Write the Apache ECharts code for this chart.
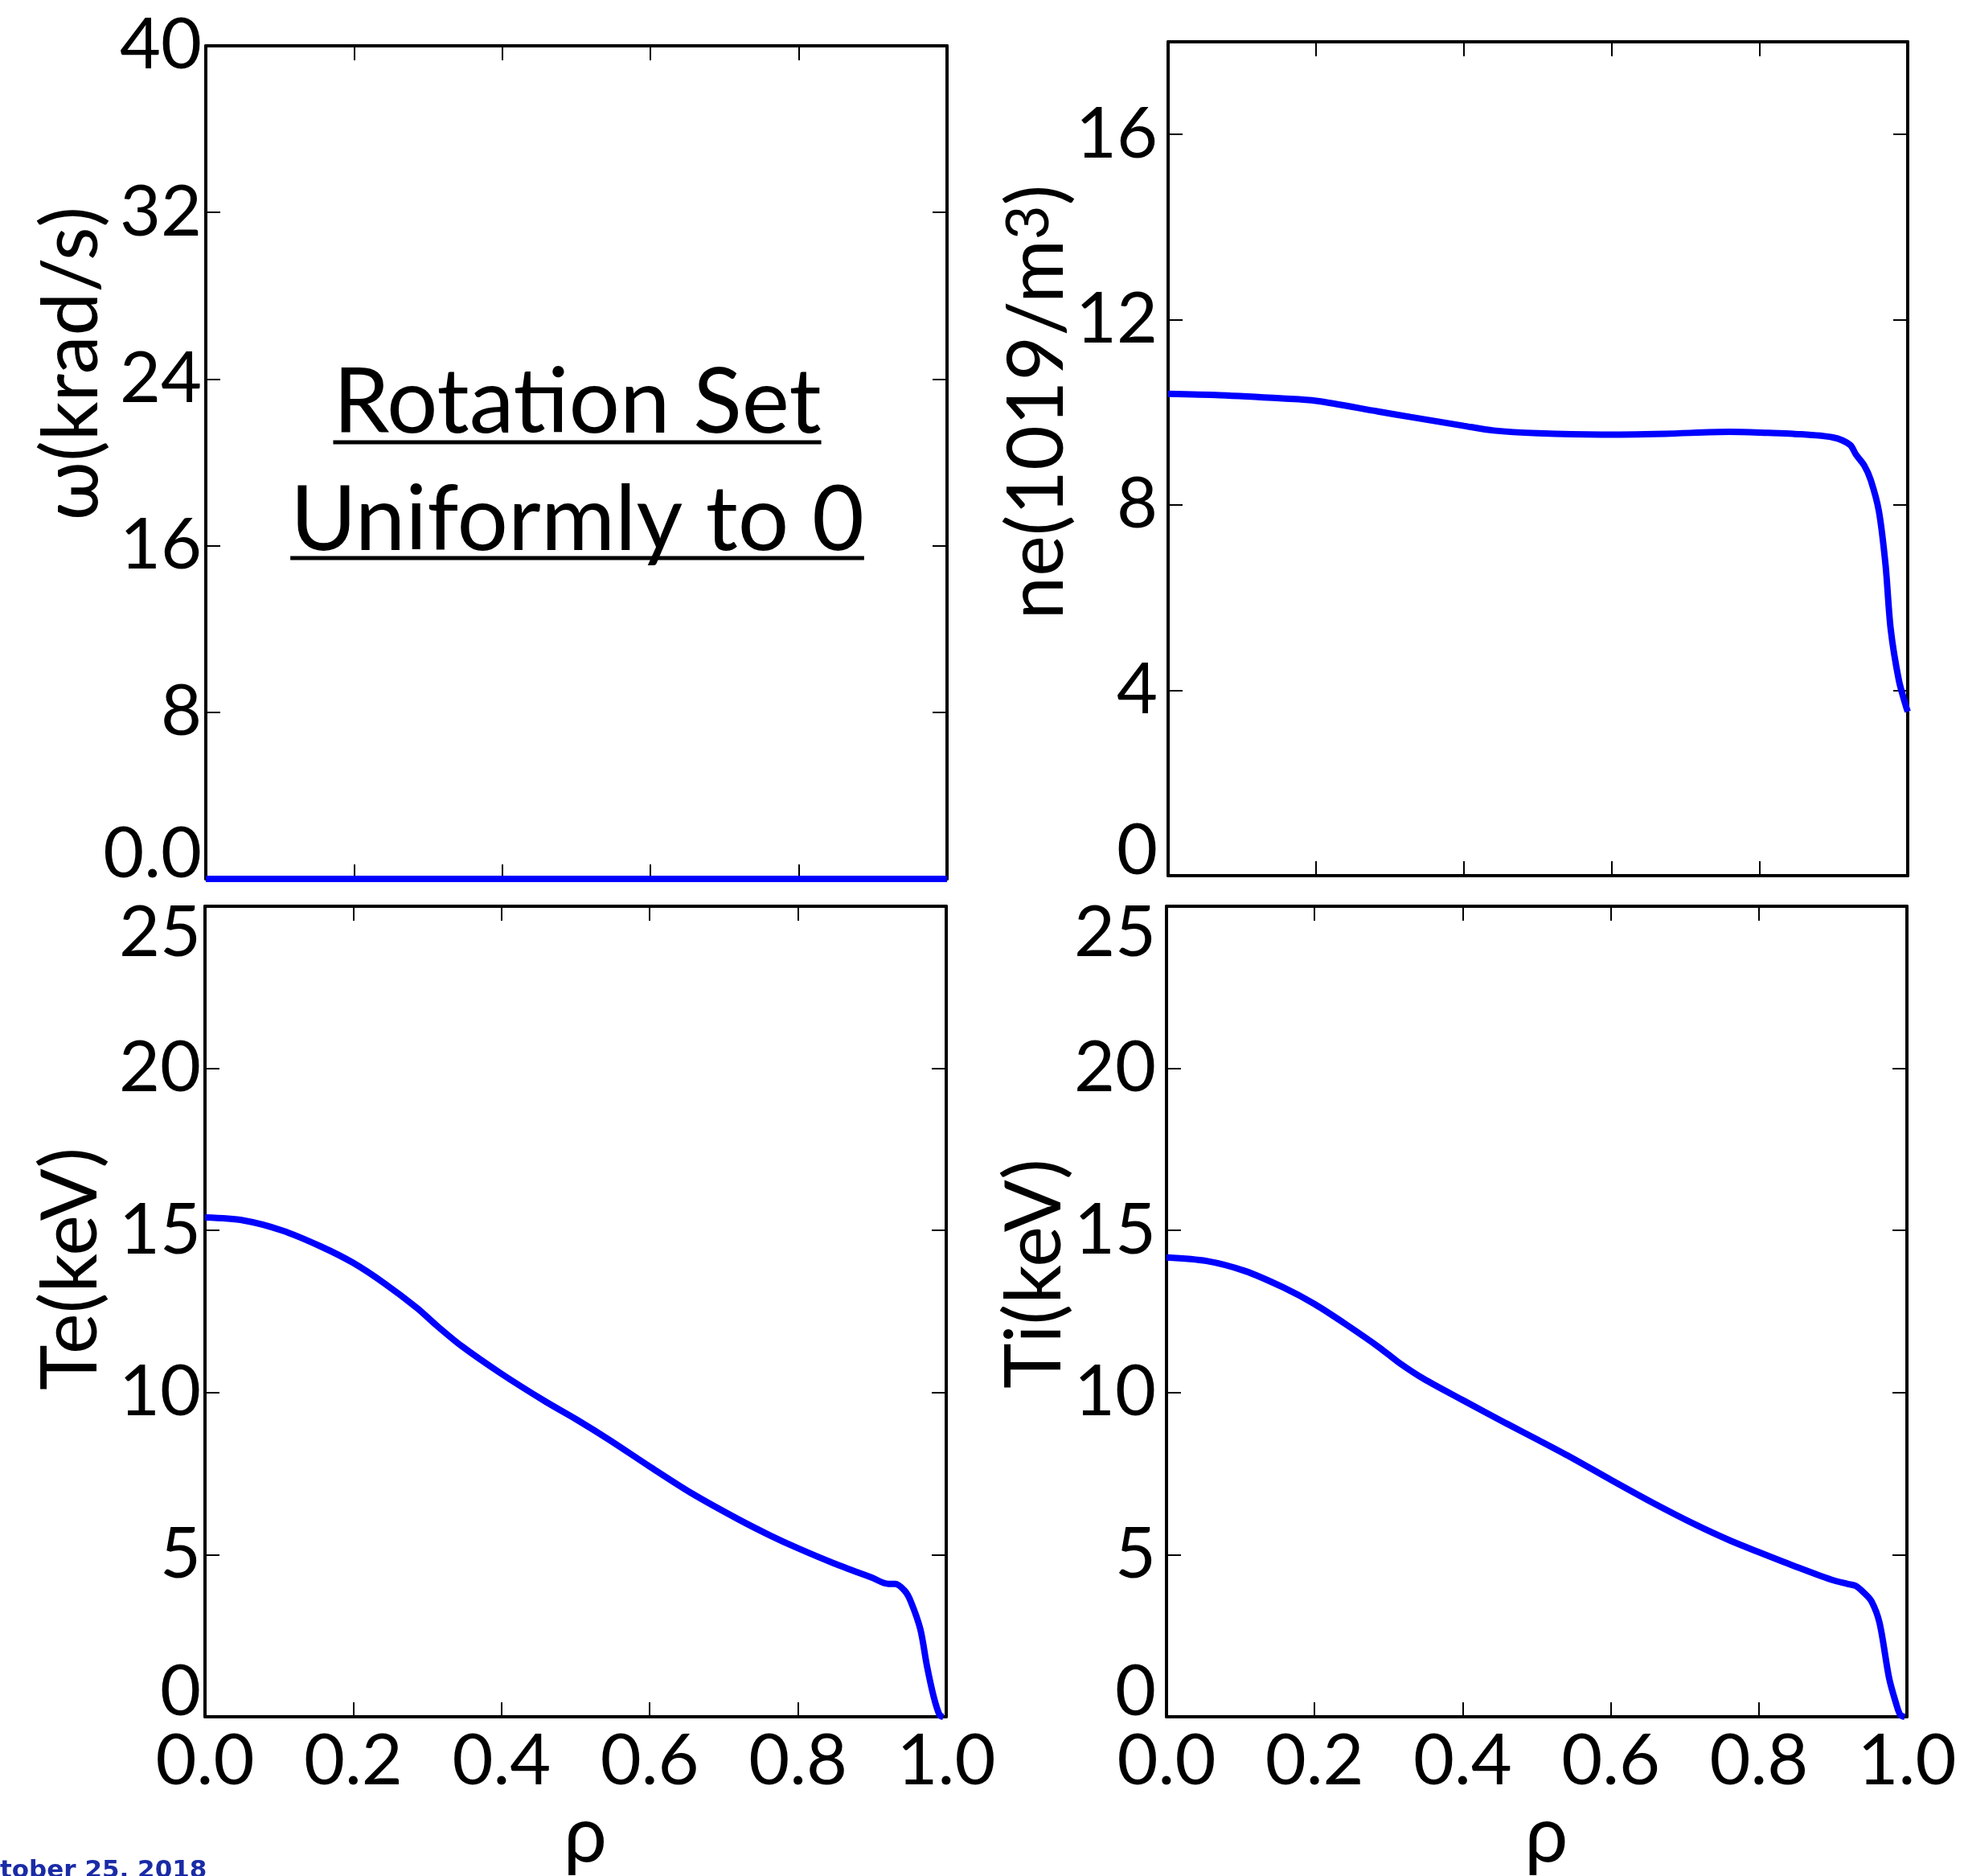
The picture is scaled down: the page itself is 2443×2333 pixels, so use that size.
<!DOCTYPE html>
<html><head><meta charset="utf-8">
<script src="https://cdn.jsdelivr.net/npm/echarts/dist/echarts.min.js"></script>
<style>html,body{margin:0;padding:0;background:#fff}#c{width:2443px;height:2333px}</style>
</head><body><div id="c"></div>
<script>
// ---- data ----
const rhoTicks = [0, 0.2, 0.4, 0.6, 0.8, 1.0];
const omegaTicks = [0, 8, 16, 24, 32, 40];
const neTicks = [0, 4, 8, 12, 16];
const tempTicks = [0, 5, 10, 15, 20, 25];

const rhoOmega = [0, 0.2, 0.4, 0.6, 0.8, 1.0];
const omega = [0, 0, 0, 0, 0, 0];

const rhoNe = [0, 0.07, 0.155, 0.2, 0.284, 0.328, 0.4, 0.44, 0.5, 0.586, 0.672, 0.759, 0.811, 0.845, 0.899, 0.922, 0.930, 0.941, 0.950, 0.961, 0.970, 0.977, 0.988, 0.997, 1.0];
const ne = [10.40, 10.37, 10.30, 10.25, 10.02, 9.90, 9.71, 9.61, 9.55, 9.52, 9.54, 9.58, 9.56, 9.54, 9.46, 9.30, 9.09, 8.86, 8.54, 7.87, 6.71, 5.32, 4.22, 3.69, 3.54];

const rhoTe = [0, 0.052, 0.104, 0.156, 0.2, 0.242, 0.286, 0.312, 0.346, 0.4, 0.459, 0.502, 0.545, 0.6, 0.657, 0.719, 0.762, 0.8, 0.848, 0.9, 0.922, 0.931, 0.944, 0.952, 0.965, 0.974, 0.983, 0.991, 0.996];
const Te = [15.40, 15.31, 15.0, 14.51, 14.0, 13.37, 12.61, 12.08, 11.44, 10.58, 9.73, 9.16, 8.55, 7.72, 6.89, 6.10, 5.60, 5.20, 4.74, 4.29, 4.10, 4.10, 3.89, 3.57, 2.71, 1.57, 0.63, 0.06, 0];

const rhoTi = [0, 0.054, 0.106, 0.158, 0.2, 0.244, 0.287, 0.313, 0.347, 0.4, 0.459, 0.502, 0.545, 0.601, 0.657, 0.717, 0.761, 0.8, 0.847, 0.898, 0.920, 0.931, 0.941, 0.952, 0.963, 0.976, 0.985, 0.991, 0.997];
const Ti = [14.17, 14.06, 13.75, 13.24, 12.73, 12.08, 11.40, 10.94, 10.43, 9.77, 9.05, 8.54, 8.02, 7.30, 6.60, 5.90, 5.44, 5.08, 4.66, 4.23, 4.10, 4.04, 3.85, 3.57, 2.90, 1.19, 0.44, 0.06, 0];

const titleLines = ['Rotation Set', 'Uniformly to 0'];
const dateText = 'tober 25, 2018';

// ---- chart ----
const FONT = 'Lato';
const TICK_FS = 88;
const NAME_FS = 96;

const labelRich = {
  lo: { fontFamily: FONT, fontSize: TICK_FS, color: '#000', padding: [0, 0, 60, 0] },
  hi: { fontFamily: FONT, fontSize: TICK_FS, color: '#000', padding: [68, 0, 0, 0] }
};

const panels = [
  { grid: { left: 256, top: 57, width: 922, height: 1036 }, rho: rhoOmega, y: omega, ticks: omegaTicks, ymax: 40, showX: false, margin: 5,
    fmt: v => v === 0 ? '{lo|0.0}' : String(v) },
  { grid: { left: 1453, top: 52, width: 920, height: 1037 }, rho: rhoNe, y: ne, ticks: neTicks, ymax: 18, showX: false, margin: 13,
    fmt: v => v === 0 ? '{lo|0}' : (neTicks.indexOf(v) >= 0 ? String(v) : '') },
  { grid: { left: 255, top: 1127, width: 922, height: 1037 }, rho: rhoTe, y: Te, ticks: tempTicks, ymax: 25, showX: true, margin: 5,
    fmt: v => v === 0 ? '{lo|0}' : (v === 25 ? '{hi|25}' : String(v)) },
  { grid: { left: 1451, top: 1127, width: 921, height: 1037 }, rho: rhoTi, y: Ti, ticks: tempTicks, ymax: 25, showX: true, margin: 13,
    fmt: v => v === 0 ? '{lo|0}' : (v === 25 ? '{hi|25}' : String(v)) }
];

const axisLine = { show: true, onZero: false, lineStyle: { color: '#000', width: 4 } };
const axisTick = { show: true, inside: true, length: 18, lineStyle: { color: '#000', width: 2 } };

const grids = [], xAxes = [], yAxes = [], series = [];
panels.forEach((p, i) => {
  grids.push(Object.assign({ containLabel: false }, p.grid));
  const xInterval = rhoTicks[1] - rhoTicks[0];
  const yInterval = p.ticks[1] - p.ticks[0];
  xAxes.push({
    type: 'value', gridIndex: i, position: 'bottom', min: rhoTicks[0], max: rhoTicks[rhoTicks.length - 1], interval: xInterval,
    axisLine, axisTick, splitLine: { show: false },
    axisLabel: { show: p.showX, color: '#000', fontFamily: FONT, fontSize: TICK_FS, margin: 12, formatter: v => v.toFixed(1) },
    name: p.showX ? 'ρ' : '', nameLocation: 'middle', nameGap: 129,
    nameTextStyle: { color: '#000', fontFamily: FONT, fontSize: NAME_FS, verticalAlign: 'middle', padding: [0, 0, 0, 24] }
  });
  xAxes.push({
    type: 'value', gridIndex: i, position: 'top', min: rhoTicks[0], max: rhoTicks[rhoTicks.length - 1], interval: xInterval,
    axisLine, axisTick, splitLine: { show: false }, axisLabel: { show: false }
  });
  yAxes.push({
    type: 'value', gridIndex: i, position: 'left', min: p.ticks[0], max: p.ymax, interval: yInterval,
    axisLine, axisTick, splitLine: { show: false },
    axisLabel: { show: true, color: '#000', fontFamily: FONT, fontSize: TICK_FS, margin: p.margin, formatter: p.fmt, rich: labelRich }
  });
  yAxes.push({
    type: 'value', gridIndex: i, position: 'right', min: p.ticks[0], max: p.ymax, interval: yInterval,
    axisLine, axisTick, splitLine: { show: false }, axisLabel: { show: false }
  });
  series.push({
    type: 'line', xAxisIndex: 2 * i, yAxisIndex: 2 * i,
    data: p.rho.map((r, k) => [r, p.y[k]]),
    showSymbol: false, smooth: 0.3, clip: false, z: 5,
    lineStyle: { color: '#0000ff', width: 8 }
  });
});

// measure title widths for underlines
const mctx = document.createElement('canvas').getContext('2d');
const TITLE_FS = 112;
mctx.font = TITLE_FS + 'px ' + FONT;
const titleCx = 718;
const titleBaselines = [545, 691];
const underlineY = [550, 694];
const graphic = [];
titleLines.forEach((t, k) => {
  const w = mctx.measureText(t).width;
  graphic.push({
    type: 'text', x: titleCx, y: titleBaselines[k] - 0.387 * TITLE_FS, z: 10,
    style: { text: t, font: TITLE_FS + 'px ' + FONT, fill: '#000', align: 'center', textAlign: 'center', verticalAlign: 'middle', textVerticalAlign: 'middle' }
  });
  graphic.push({
    type: 'line', z: 10,
    shape: { x1: titleCx - w / 2, y1: underlineY[k], x2: titleCx + w / 2, y2: underlineY[k] },
    style: { stroke: '#000', lineWidth: 5 }
  });
});

const yNames = [
  { text: 'ω(krad/s)', x: 90, y: 452 },
  { text: 'ne(1019/m{sup|3})', x: 1291, y: 500 },
  { text: 'Te(keV)', x: 89, y: 1578 },
  { text: 'Ti(keV)', x: 1288, y: 1584 }
];
yNames.forEach(n => {
  graphic.push({
    type: 'text', x: n.x, y: n.y, rotation: Math.PI / 2, z: 10,
    style: {
      text: n.text, fontFamily: FONT, fontSize: NAME_FS, lineHeight: NAME_FS, fill: '#000',
      align: 'center', textAlign: 'center', verticalAlign: 'middle', textVerticalAlign: 'middle',
      rich: { sup: { fontFamily: FONT, fontSize: 74, lineHeight: 74, verticalAlign: 'top', fill: '#000' } }
    }
  });
});

graphic.push({
  type: 'text', x: 0, y: 2327, z: 10,
  style: { text: dateText, font: 'bold 31px "DejaVu Sans"', fill: '#1a2ba6', align: 'left', textAlign: 'left', verticalAlign: 'middle', textVerticalAlign: 'middle' }
});

const chart = echarts.init(document.getElementById('c'), null, { renderer: 'canvas' });
chart.setOption({
  backgroundColor: '#ffffff',
  animation: false,
  grid: grids,
  xAxis: xAxes,
  yAxis: yAxes,
  series: series,
  graphic: graphic
});
</script>
</body></html>
